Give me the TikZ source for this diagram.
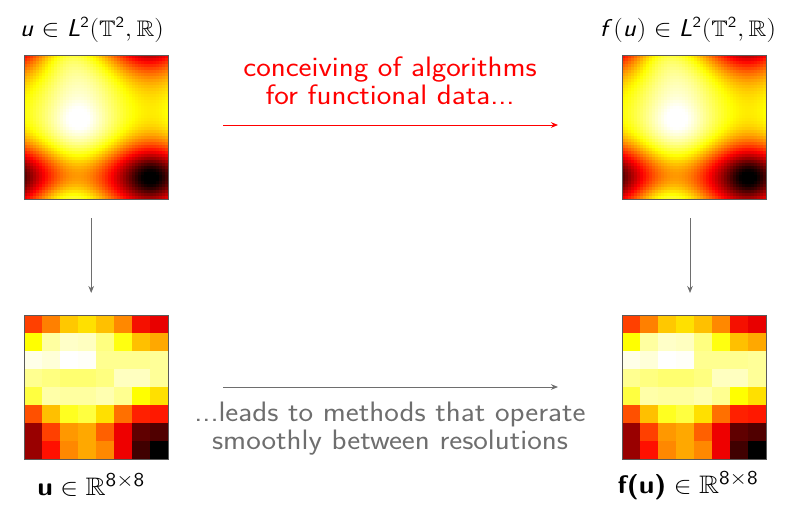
\documentclass[tikz,border=0pt]{standalone}
\usepackage{amssymb}
\usetikzlibrary{arrows.meta}

\definecolor{fadedgray}{HTML}{6E6E6E}
\definecolor{framegray}{HTML}{5A5A5A}
\DeclareMathAlphabet{\mathssl}{OT1}{cmss}{m}{sl}
\newcommand{\wide}[1]{\scalebox{1.1}[1]{#1}}
\newcommand{\eightsq}{\mbox{\fontsize{14}{14}\selectfont 8$\times$8}}

\begin{document}
\begin{tikzpicture}[
  imgbox/.style={minimum size=3.6cm, inner sep=0pt, outer sep=0pt},
  imgframe/.style={draw=framegray, line width=0.6pt},
  mathlabel/.style={font=\fontsize{16}{18}\selectfont\sffamily},
  veclabel/.style={font=\fontsize{18}{20}\selectfont\sffamily},
  bigtext/.style={font=\fontsize{20}{20}\selectfont\sffamily, align=center},
  flow/.style={-{Stealth[length=5pt,width=4pt]}, line width=0.7pt},
  declare function={bump(\px,\py,\kx,\ky)=exp(\kx*(cos(360*\px)-1)+\ky*(cos(360*\py)-1));}
]
\useasboundingbox (0,0) rectangle (20,12.75);

% the four pictures
\node[imgbox] (ucont) at (2.4,9.575) {};
\node[imgbox] (fcont) at (17.35,9.575) {};
\node[imgbox] (ugrid) at (2.4,3.075) {};
\node[imgbox] (fgrid) at (17.35,3.075) {};

% smooth field on the torus, hot colour map
\foreach \i in {0,...,47} {
  \foreach \j in {0,...,47} {
    \pgfmathsetmacro\xval{(\i+0.5)/48}
    \pgfmathsetmacro\yval{(\j+0.5)/48}
    \pgfmathsetmacro\tval{0.64 + 0.25*cos(360*(\yval-0.37)) - 0.05*cos(720*(\yval-0.85))
      + (0.18+0.06*cos(360*(\yval-0.85)))*cos(360*(\xval-0.38))
      + 0.05*bump(\xval-0.38,\yval-0.43,3,4)
      + 0.12*bump(\xval-0.25,\yval,0.8,4)
      - 0.14*bump(\xval-0.88,\yval-0.85,3,3)}
    \pgfmathsetmacro\rval{max(0,min(1,\tval/0.375))}
    \pgfmathsetmacro\gval{max(0,min(1,(\tval-0.375)/0.375))}
    \pgfmathsetmacro\bval{max(0,min(1,(\tval-0.75)/0.25))}
    \definecolor{cellc}{rgb}{\rval,\gval,\bval}
    \foreach \img in {ucont,fcont}
      \fill[cellc] ([shift={(\i*0.075,-\j*0.075)}]\img.north west) rectangle ++(0.08,-0.08);
  }
}

% 8x8 samples
\foreach \row [count=\r from 0] in {
  {FF4000,FF8000,FFC800,FFE000,FFC000,FF8800,F51000,E80000},
  {FFFF00,FFFFA0,FFFFC8,FFFFC0,FFFF80,FFFF10,FFC000,FFA800},
  {FFFFE8,FFFFD8,FFFFFF,FFFFF8,FFFF90,FFFF90,FFFF90,FFFF98},
  {FFFF90,FFFF80,FFFF70,FFFF70,FFFF80,FFFFC0,FFFFC0,FFFF98},
  {FFFF40,FFFFA8,FFFFA0,FFFFA0,FFFFB0,FFFF90,FFFF00,FFE000},
  {FF5000,FFC000,FFFF20,FFFF40,FFE000,FF7000,FF2000,FF1800},
  {990000,FF4000,FF9800,FFA800,FF6000,EE0000,600000,500000},
  {990000,FF1000,FF8800,FFA800,FF8800,EE0000,400000,000000}} {
  \foreach \hex [count=\c from 0] in \row {
    \definecolor{cellc}{HTML}{\hex}
    \foreach \img in {ugrid,fgrid}
      \fill[cellc] ([shift={(\c*0.45,-\r*0.45)}]\img.north west) rectangle ++(0.455,-0.455);
  }
}

\foreach \img in {ucont,fcont,ugrid,fgrid}
  \draw[imgframe] (\img.south west) rectangle (\img.north east);

% labels
\node[mathlabel] (ulab) at (2.3,12.0) {\wide{$\mathssl{u} \in \mathssl{L}^{\mathsf{2}}(\mathbb{T}^{\mathsf{2}},\mathbb{R})$}};
\node[mathlabel] (flab) at (17.2,12.0) {\wide{$\mathssl{f}(\mathssl{u}) \in \mathssl{L}^{\mathsf{2}}(\mathbb{T}^{\mathsf{2}},\mathbb{R})$}};
\node[veclabel] (uvec) at (2.28,0.62) {\wide{$\mbox{\bfseries u} \in \mathbb{R}^{\eightsq}$}};
\node[veclabel] (fvec) at (17.2,0.62) {\wide{$\mbox{\bfseries f(u)} \in \mathbb{R}^{\eightsq}$}};

\node[bigtext, text=red] (conc) at (9.75,10.725) {\wide{conceiving of algorithms}\\\wide{for functional data...}};
\node[bigtext, text=fadedgray] (lead) at (9.75,2.025) {\wide{...leads to methods that operate}\\\wide{smoothly between resolutions}};

% arrows
\draw[flow, red, shorten <=1.375cm, shorten >=1.6cm] ([yshift=0.05cm]ucont.east) -- ([yshift=0.05cm]fcont.west);
\draw[flow, fadedgray, shorten <=1.375cm, shorten >=1.6cm] (ugrid.east) -- (fgrid.west);
\draw[flow, fadedgray, shorten <=0.475cm, shorten >=0.55cm] ([xshift=-0.12cm]ucont.south) -- ([xshift=-0.12cm]ugrid.north);
\draw[flow, fadedgray, shorten <=0.475cm, shorten >=0.55cm] ([xshift=-0.1cm]fcont.south) -- ([xshift=-0.1cm]fgrid.north);
\end{tikzpicture}
\end{document}
